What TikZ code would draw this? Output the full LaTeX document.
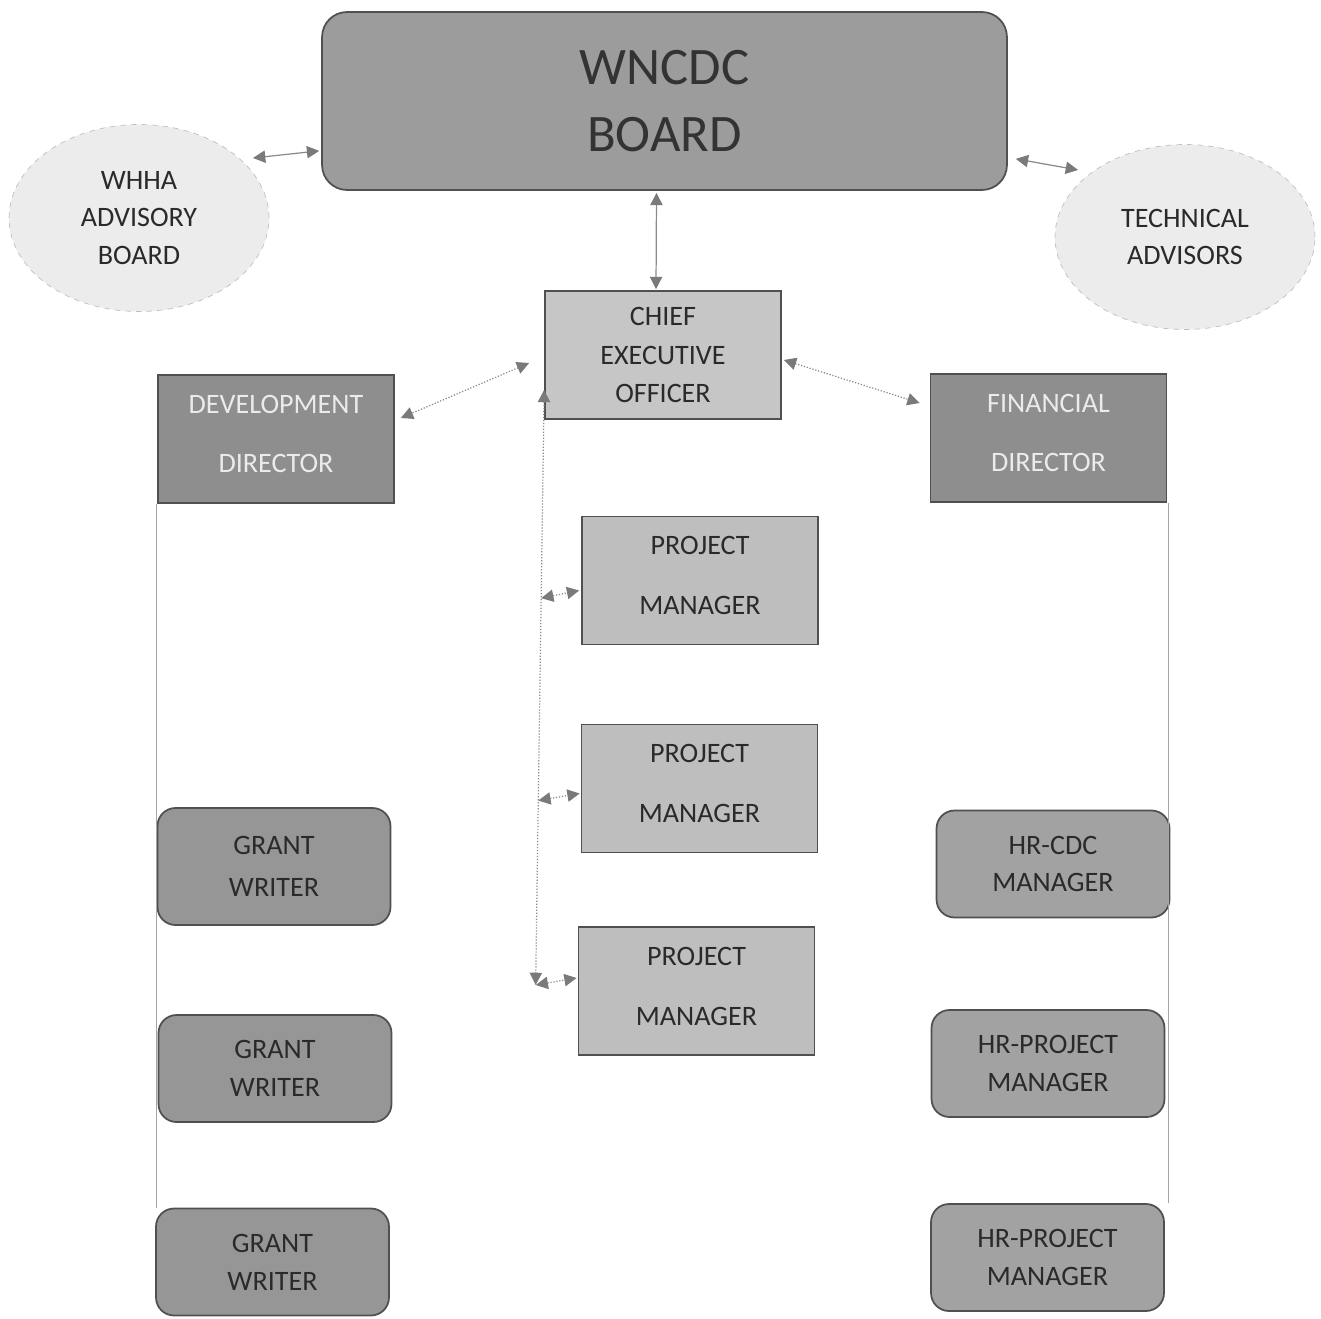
\documentclass[tikz,border=0pt]{standalone}
\usepackage{fontspec}
\setmainfont{Carlito}
\usetikzlibrary{arrows.meta,shapes.geometric,calc}
\definecolor{boardfill}{HTML}{9C9C9C}
\definecolor{ceofill}{HTML}{C6C6C6}
\definecolor{pmfill}{HTML}{BEBEBE}
\definecolor{dirfill}{HTML}{8E8E8E}
\definecolor{gwfill}{HTML}{969696}
\definecolor{hrfill}{HTML}{A2A2A2}
\definecolor{ellfill}{HTML}{ECECEC}
\definecolor{edge}{HTML}{505050}
\definecolor{txt}{HTML}{2A2A2A}
\definecolor{conncol}{HTML}{8A8A8A}
\definecolor{tipcol}{HTML}{7A7A7A}
\begin{document}
\begin{tikzpicture}[x=0.02cm,y=-0.02cm,
  box/.style={draw=edge,line width=1pt,text=txt,align=center,inner sep=0pt},
  sqbox/.style={box,minimum width=4.72cm,minimum height=2.56cm},
  rbox/.style={box,rounded corners=0.36cm,minimum width=4.66cm,minimum height=2.14cm},
  ell/.style={ellipse,draw=black!25,dashed,fill=ellfill,text=txt,align=center,inner sep=0pt,
    font=\fontsize{16}{21.5}\selectfont},
  conn/.style={draw=conncol,line width=0.7pt},
  tips/.style={{Triangle[length=7pt,width=7pt,fill=tipcol,color=tipcol]}-{Triangle[length=7pt,width=7pt,fill=tipcol,color=tipcol]}},
  vline/.style={draw=black!35,line width=0.6pt}]
\useasboundingbox (0,0) rectangle (1321,1318);

% main board
\node[box,rounded corners=0.5cm,fill=boardfill,minimum width=13.7cm,minimum height=3.56cm,
  font=\fontsize{30}{38.5}\selectfont,text=black!80] (board) at (664.5,101) {WNCDC\\BOARD};

% ellipses
\node[ell,minimum width=5.2cm,minimum height=3.74cm] (whha) at (139,218) {WHHA\\ADVISORY\\BOARD};
\node[ell,minimum width=5.2cm,minimum height=3.7cm] (tech) at (1185,237) {TECHNICAL\\ADVISORS};

% CEO
\node[sqbox,fill=ceofill,font=\fontsize{16}{21.8}\selectfont] (ceo) at (663,355) {CHIEF\\EXECUTIVE\\OFFICER};

% directors
\node[sqbox,fill=dirfill,text=black!8,text depth=5.5pt,font=\fontsize{16}{33.5}\selectfont] (dd) at (276,439) {DEVELOPMENT\\DIRECTOR};
\node[sqbox,fill=dirfill,text=black!8,text depth=5.5pt,font=\fontsize{16}{33.5}\selectfont] (fd) at (1048.5,438) {FINANCIAL\\DIRECTOR};

% project managers
\node[sqbox,fill=pmfill,text depth=5.5pt,font=\fontsize{16}{34}\selectfont] (pm1) at (700,580.5) {PROJECT\\MANAGER};
\node[sqbox,fill=pmfill,text depth=5.5pt,font=\fontsize{16}{34}\selectfont] (pm2) at (699.5,788.5) {PROJECT\\MANAGER};
\node[sqbox,fill=pmfill,text depth=5.5pt,font=\fontsize{16}{34}\selectfont] (pm3) at (696.5,991) {PROJECT\\MANAGER};

% grant writers
\node[rbox,fill=gwfill,minimum height=2.34cm,font=\fontsize{16}{23.5}\selectfont] (gw1) at (274,866.5) {GRANT\\WRITER};
\node[rbox,fill=gwfill,font=\fontsize{16}{21.5}\selectfont] (gw2) at (275,1068.5) {GRANT\\WRITER};
\node[rbox,fill=gwfill,font=\fontsize{16}{21.5}\selectfont] (gw3) at (272.5,1262) {GRANT\\WRITER};

% HR
\node[rbox,fill=hrfill,font=\fontsize{16}{21.5}\selectfont] (hr1) at (1053,864) {HR-CDC\\MANAGER};
\node[rbox,fill=hrfill,font=\fontsize{16}{21.5}\selectfont] (hr2) at (1048,1063.5) {HR-PROJECT\\MANAGER};
\node[rbox,fill=hrfill,font=\fontsize{16}{21.5}\selectfont] (hr3) at (1047.5,1257.5) {HR-PROJECT\\MANAGER};

% connectors top
\draw[conn,tips] ($(whha.center)+(114,-60)$) -- ($(board.south west)+(-2,-40)$);
\draw[conn,tips] ($(board.south east)+(8,-32)$) -- ($(tech.center)+(-107,-67)$);
\draw[conn,tips] ($(board.south)+(-8,2)$) -- ($(ceo.north)+(-7,-1)$);
\draw[conn,densely dotted,tips] ($(ceo.west)+(-15,8)$) -- ($(dd.east)+(6,-21)$);
\draw[conn,densely dotted,tips] ($(ceo.east)+(2,5)$) -- ($(fd.west)+(-10,-35)$);

% spine
\coordinate (sp0) at ($(ceo.south west)+(0,-30)$);
\coordinate (spb) at ($(pm3.west)+(-42,-6)$);
\draw[conn,densely dotted,tips] (sp0) -- (spb);
\coordinate (b1) at ($(sp0)!0.35!(spb)$);
\coordinate (b2) at ($(sp0)!0.69!(spb)$);
\draw[conn,densely dotted,tips] (b1) -- ($(pm1.west)+(-2,10)$);
\draw[conn,densely dotted,tips] (b2) -- ($(pm2.west)+(-1,5)$);
\draw[conn,densely dotted,tips] (spb) -- ($(pm3.west)+(-1,-13)$);

% side lines
\draw[vline] ($(dd.south west)+(-1,0)$) -- ($(dd.south west |- gw3.north)+(-1,0)$);
\draw[vline] ($(fd.south east)+(1,0)$) -- ($(fd.south east |- hr3.north)+(1,0)$);
\end{tikzpicture}
\end{document}
